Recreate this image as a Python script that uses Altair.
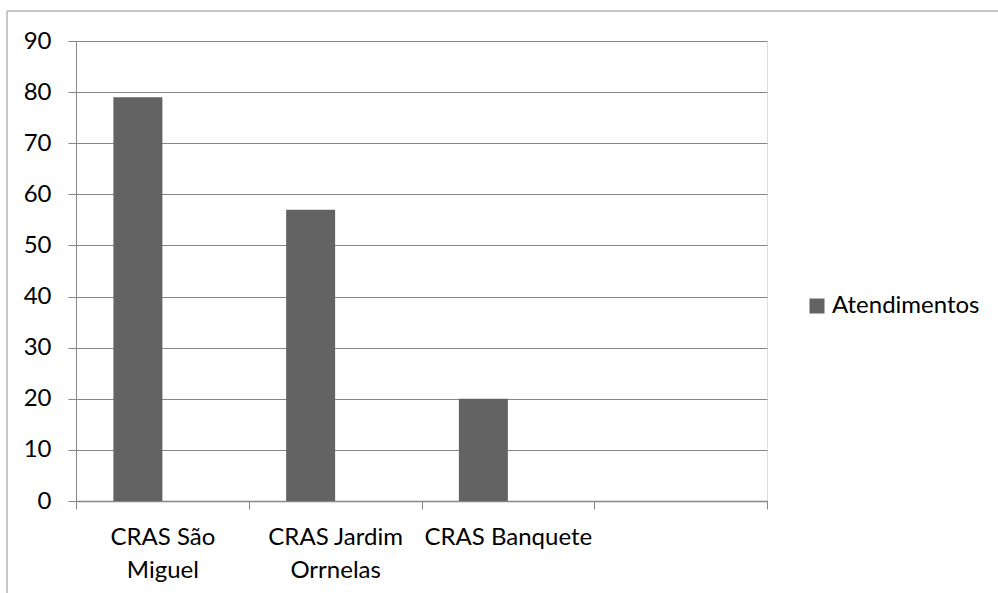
import altair as alt
import pandas as pd

categories = ["CRAS São Miguel", "CRAS Jardim Orrnelas", "CRAS Banquete"]
values = [79, 57, 20]
series_name = "Atendimentos"
x_domain = categories + [" "]
offset_domain = [series_name, "Série 2"]
y_ticks = [0, 10, 20, 30, 40, 50, 60, 70, 80, 90]

df = pd.DataFrame({"cat": categories, "val": values, "series": [series_name] * len(categories)})
one = pd.DataFrame({"a": [0]})

FONT = "Lato"
GRAY = "#868686"

label_expr = (
    "datum.value == 'CRAS São Miguel' ? ['CRAS São', 'Miguel'] : "
    "datum.value == 'CRAS Jardim Orrnelas' ? ['CRAS Jardim', 'Orrnelas'] : datum.label"
)

bars = alt.Chart(df).mark_bar(color="#636363").encode(
    x=alt.X("cat:N", sort=x_domain,
            scale=alt.Scale(domain=x_domain, paddingInner=0, paddingOuter=0),
            axis=alt.Axis(title=None, labelAngle=0, labelFont=FONT, labelFontSize=24,
                          labelColor="#000000", labelPadding=16, labelLineHeight=33,
                          labelExpr=label_expr, labelLimit=400, labelOverlap=False,
                          tickBand="extent", tickSize=8, tickColor=GRAY, tickWidth=1,
                          domainColor=GRAY, domainWidth=1.5, grid=False)),
    xOffset=alt.XOffset("series:N",
                        scale=alt.Scale(domain=offset_domain, paddingInner=0, paddingOuter=0.763)),
    y=alt.Y("val:Q", scale=alt.Scale(domain=[0, 90], nice=False),
            axis=alt.Axis(title=None, values=y_ticks, labelFont=FONT, labelFontSize=24,
                          labelColor="#000000", labelPadding=17, tickSize=8, tickColor=GRAY,
                          domainColor=GRAY, grid=True, gridColor=GRAY, gridWidth=1)),
    color=alt.Color("series:N", scale=alt.Scale(domain=[series_name], range=["#636363"]),
                    legend=alt.Legend(title=None, orient="none", legendX=729, legendY=253,
                                      symbolType="square", symbolSize=225,
                                      symbolStrokeWidth=0, labelFont=FONT,
                                      labelFontSize=24, labelColor="#000000",
                                      labelOffset=3, padding=0)),
)

border_left = alt.Chart(one).mark_rule(color="#b4b4b4", strokeWidth=1.5).encode(
    x=alt.value(-69), y=alt.value(-30), y2=alt.value(560))
border_top = alt.Chart(one).mark_rule(color="#b4b4b4", strokeWidth=1.5).encode(
    x=alt.value(-69), x2=alt.value(930), y=alt.value(-30))

chart = alt.layer(bars, border_left, border_top).properties(
    width=691, height=460,
    padding={"left": 76, "top": 41, "right": 231, "bottom": 92},
    autosize=alt.AutoSizeParams(type="none"),
).configure_view(stroke=None).configure(background="#ffffff")

chart.save("out.html", embed_options={"renderer": "svg", "actions": False})
